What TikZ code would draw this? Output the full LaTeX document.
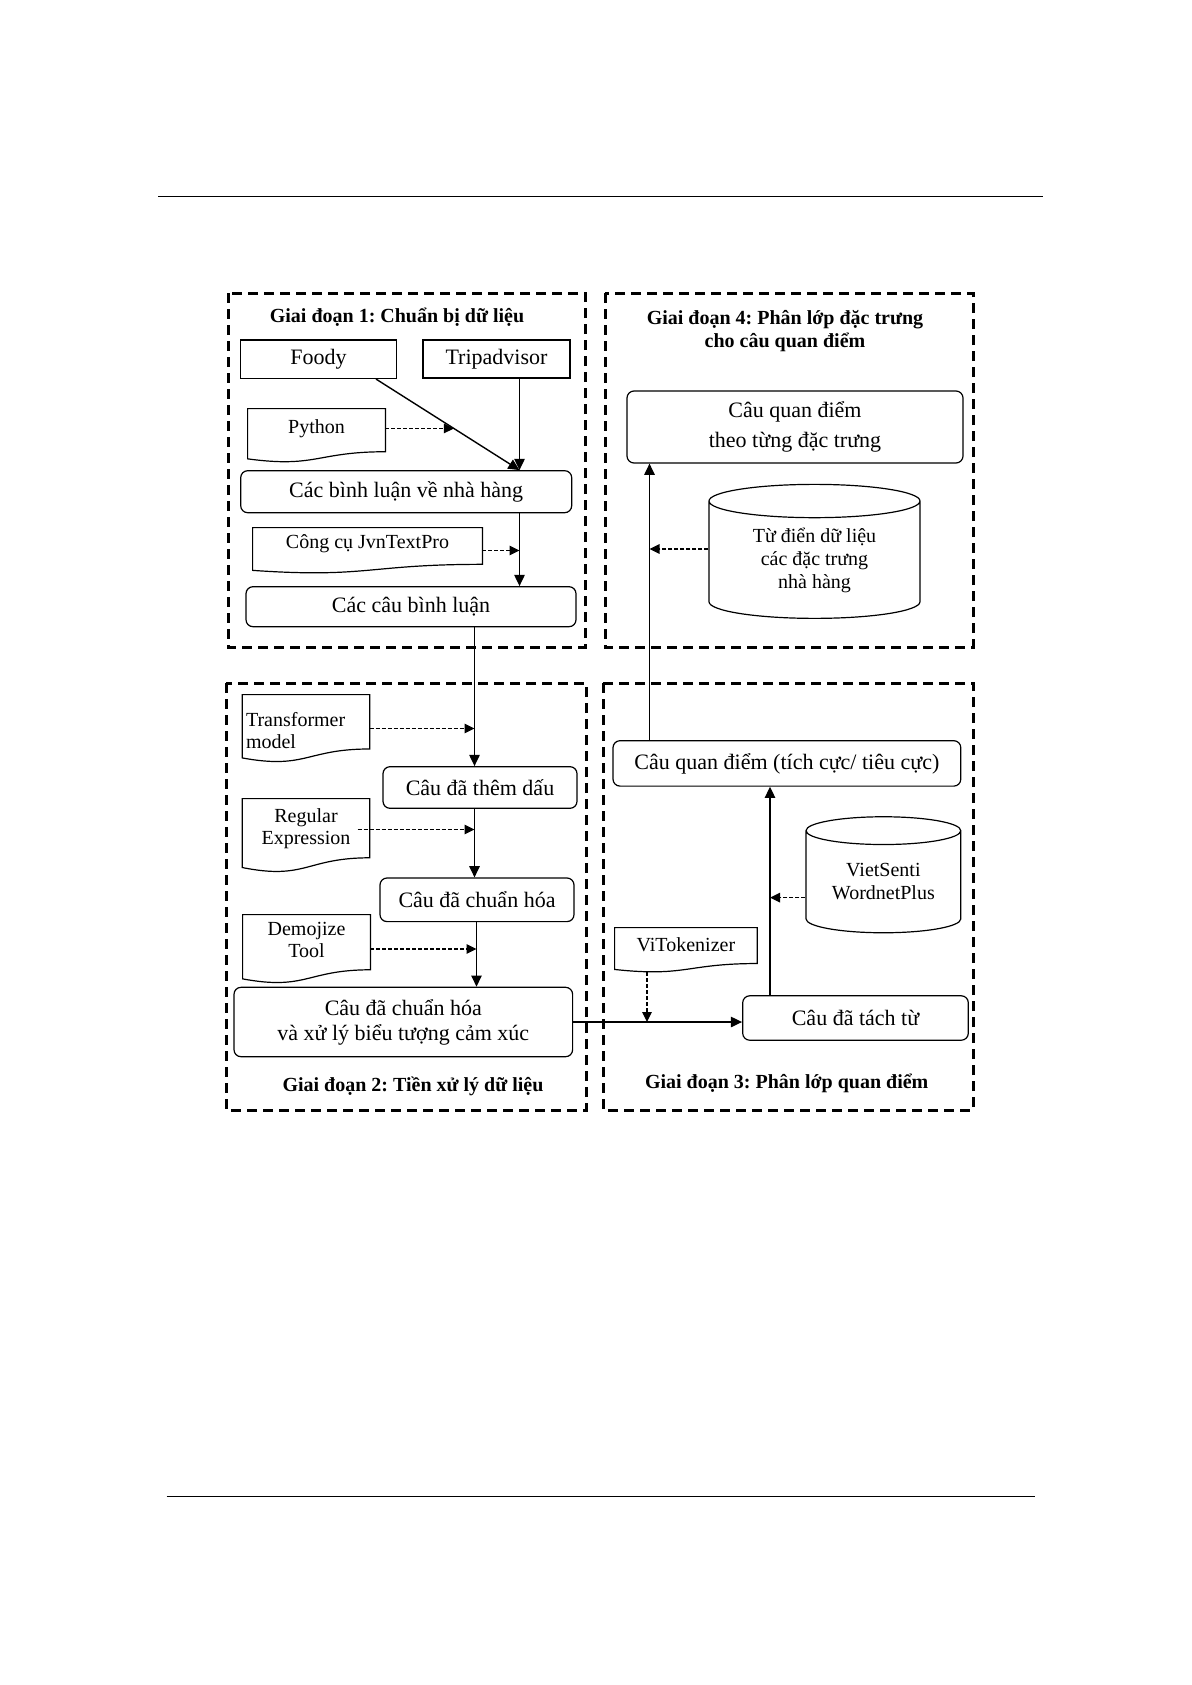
\documentclass[tikz,border=0pt]{standalone}
\usepackage{fontspec}
\setmainfont{Liberation Serif}
\frenchspacing
\usetikzlibrary{calc,arrows.meta,shapes.geometric}
\def\docshape(#1){\draw[line width=0.6pt] (#1.north west) -- (#1.north east) -- ($(#1.north east)!0.802!(#1.south east)$) .. controls ($(#1.north)!0.802!(#1.south)$) and ($(#1.north)!1.107!(#1.south)$) .. ($(#1.north west)!0.934!(#1.south west)$) -- cycle;}
\tikzset{
  stage/.style={draw, line width=1.5pt, dash pattern=on 5pt off 3pt},
  stagetitle/.style={font=\bfseries\fontsize{10}{11.5}\selectfont, align=center, inner sep=0pt},
  src/.style={draw, line width=0.6pt, inner sep=0pt, font=\fontsize{11}{13}\selectfont},
  box/.style={src, rounded corners=3.5pt, align=center, font=\fontsize{11}{12.5}\selectfont},
  doc/.style={inner sep=0pt, align=center, text depth=9pt, font=\fontsize{10}{11}\selectfont},
  store/.style={draw, line width=0.6pt, cylinder, shape border rotate=90, aspect=0.27, inner sep=0pt, align=center, font=\fontsize{10}{11.5}\selectfont},
  flow/.style={line width=0.7pt, -{Triangle[length=5.6pt,width=5.2pt]}},
  hint/.style={line width=0.55pt, dash pattern=on 2pt off 1pt, -{Triangle[length=5pt,width=4.8pt]}},
}
\begin{document}
\begin{tikzpicture}[x=0.5pt,y=-0.5pt]
			%%%%% START %%%%%
			\path[use as bounding box, fill=white] (0,0) rectangle (1192,1685);
			
			\draw[line width=0.7pt] (158.3,196.7) -- (1042.7,196.7);
			\draw[line width=0.7pt] (166.7,1496.7) -- (1035,1496.7);
			
			\coordinate (lane1) at (519.5,0);
			\coordinate (lane2) at (474.5,0);
			\coordinate (lane3) at (476.5,0);
			\coordinate (lane4) at (649.5,0);
			\coordinate (lane5) at (770,0);
			\coordinate (lane6) at (647,0);
			
			%% giai doan 1
			\draw[stage] (228,293) rectangle (585,647);
			\node[stagetitle] (t1) at (397,316.7) {Giai đoạn 1: Chuẩn bị dữ liệu};
			\node[src, minimum width=77.7pt, minimum height=19.2pt] (foody) at (318.4,359.2) {Foody};
			\node[src, minimum width=73.5pt, minimum height=19pt] (trip) at (496.5,359) {Tripadvisor};
			\node[doc, minimum width=68.5pt, minimum height=26.5pt] (python) at (316.5,435.5) {Python};
			\node[box, minimum width=165.5pt, minimum height=21pt] (reviews) at (406.2,491.7) {Các bình luận về nhà hàng};
			\node[doc, minimum width=114.5pt, minimum height=22.5pt] (jvn) at (367.5,550.5) {Công cụ JvnTextPro};
			\node[box, minimum width=165pt, minimum height=20pt] (sentences) at (411,606.7) {Các câu bình luận};
			\docshape(python)
			\docshape(jvn)
			
			\draw[flow] (foody.-19) -- (reviews.north -| lane1);
			\draw[flow] (trip.south -| lane1) -- (reviews.north -| lane1);
			\coordinate (pyend) at ($(foody.-19)!0.543!(reviews.north -| lane1)$);
			\draw[hint] (python.east |- pyend) -- (pyend);
			\draw[flow] (reviews.south -| lane1) -- (sentences.north -| lane1);
			\draw[hint] (jvn.east) -- (jvn.east -| lane1);
			
			%% giai doan 4
			\draw[stage] (605,293) rectangle (973,647);
			\node[stagetitle] (t4) at (785,331.5) {Giai đoạn 4: Phân lớp đặc trưng\\cho câu quan điểm};
			\node[box, minimum width=168pt, minimum height=36pt, font=\fontsize{11}{15}\selectfont] (aspects) at (795,427) {Câu quan điểm\\theo từng đặc trưng};
			\node[store, minimum width=105.5pt, minimum height=67pt] (dict) at (814.5,560) {Từ điển dữ liệu\\các đặc trưng\\nhà hàng};
			\coordinate (dictout) at ([yshift=5.5pt]dict.west);
			
			%% giai doan 2
			\draw[stage] (226,683) rectangle (586,1110);
			\node[doc, align=left, text width=60pt, inner xsep=1.65pt, minimum width=63.3pt, minimum height=33.5pt] (transformer) at (306,728.5) {Transformer\\model};
			\node[box, minimum width=97pt, minimum height=20.8pt] (accent) at (480,787.5) {Câu đã thêm dấu};
			\node[doc, minimum width=63.3pt, minimum height=36.5pt] (regex) at (306,835.5) {Regular\\Expression};
			\node[box, minimum width=97pt, minimum height=21.8pt] (normal) at (477,899.8) {Câu đã chuẩn hóa};
			\node[doc, minimum width=63.5pt, minimum height=34pt] (demojize) at (306.5,949) {Demojize\\Tool};
			\node[box, minimum width=169.3pt, minimum height=34.7pt] (emoji) at (403.3,1022) {Câu đã chuẩn hóa\\và xử lý biểu tượng cảm xúc};
			\node[stagetitle] (t2) at (413,1086.7) {Giai đoạn 2: Tiền xử lý dữ liệu};
			\docshape(transformer)
			\docshape(regex)
			\docshape(demojize)
			\coordinate (rxout) at ([xshift=-6pt,yshift=3pt]regex.east);
			
			\draw[flow] (sentences.south -| lane2) -- (accent.north -| lane2);
			\draw[hint] (transformer.east) -- (transformer.east -| lane2);
			\draw[flow] (accent.south -| lane2) -- (normal.north -| lane2);
			\draw[hint] (rxout) -- (rxout -| lane2);
			\draw[flow] (normal.south -| lane3) -- (emoji.north -| lane3);
			\draw[hint] (demojize.east) -- (demojize.east -| lane3);
			
			%% giai doan 3
			\draw[stage] (603,683) rectangle (973,1110);
			\node[box, minimum width=173.9pt, minimum height=22.7pt] (opinion) at (786.9,763.4) {Câu quan điểm (tích cực/ tiêu cực)};
			\node[store, minimum width=77.4pt, minimum height=58pt] (senti) at (883.4,882) {VietSenti\\WordnetPlus};
			\node[doc, text depth=5pt, minimum width=70.9pt, minimum height=22pt] (vitok) at (685.9,950) {ViTokenizer};
			\node[box, minimum width=112.8pt, minimum height=22.2pt] (tokens) at (855.5,1018) {Câu đã tách từ};
			\node[stagetitle] (t3) at (786.7,1083.3) {Giai đoạn 3: Phân lớp quan điểm};
			\docshape(vitok)
			\coordinate (sentiout) at ([yshift=-7.8pt]senti.west);
			
			\draw[flow] (emoji.east) -- (emoji.east -| tokens.west);
			\draw[hint] (vitok.south -| lane6) -- (emoji.east -| lane6);
			\draw[flow] (tokens.north -| lane5) -- (opinion.south -| lane5);
			\draw[hint] (sentiout) -- (sentiout -| lane5);
			\draw[flow] (opinion.north -| lane4) -- (aspects.south -| lane4);
			\draw[hint] (dictout) -- (dictout -| lane4);
			%%%%% END %%%%%
\end{tikzpicture}
\end{document}
